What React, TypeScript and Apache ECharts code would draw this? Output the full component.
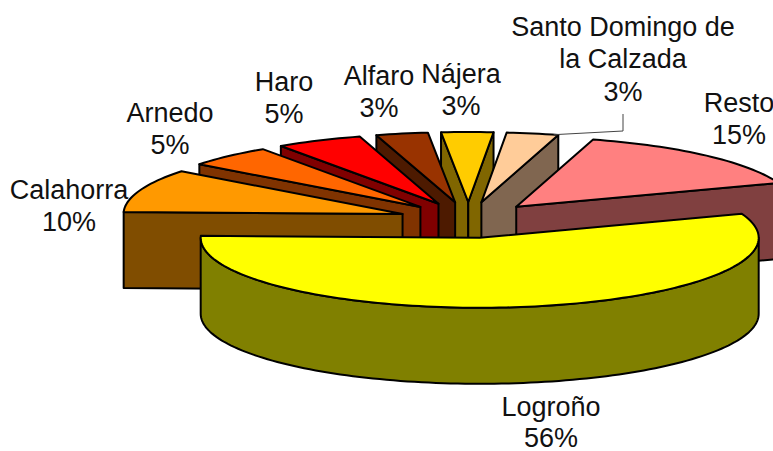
import React, { useEffect, useRef } from "react";
import * as echarts from "echarts";

const categories = ["Logroño", "Calahorra", "Arnedo", "Haro", "Alfaro", "Nájera", "Santo Domingo de\nla Calzada", "Resto"];
const shares = [56, 10, 5, 5, 3, 3, 3, 15];
const topColors = ["#FFFF00", "#FF9900", "#FF6600", "#FF0000", "#993300", "#FFCC00", "#FFCC99", "#FF8080"];
const sideColors = ["#808000", "#804D00", "#803300", "#800000", "#4D1A00", "#806600", "#806650", "#804040"];
const labelAnchors = [
  [551, 423], [69, 206], [170, 129], [284, 98], [379, 92], [461, 90], [623, 59], [739, 119],
];

const START_DEG = -20;
const BASE_X = 468.5;
const BASE_Y = 220;
const RX = 279;
const RY = 70;
const DEPTH = 76;
const EXPLODE_X = 70;
const EXPLODE_Y = 18;
const LINE_STEP = 32.5;
const FONT_SIZE = 27;
const PAGE_HEIGHT = 451;

const total = shares.reduce((a, b) => a + b, 0);
const rad = (d: number) => (d * Math.PI) / 180;

function sliceGeometry(i: number) {
  const before = shares.slice(0, i).reduce((a, b) => a + b, 0);
  const a0 = START_DEG + (before / total) * 360;
  const a1 = a0 + (shares[i] / total) * 360;
  const mid = (a0 + a1) / 2;
  const cx = BASE_X + EXPLODE_X * Math.cos(rad(mid));
  const cy = BASE_Y + EXPLODE_Y * Math.sin(rad(mid));
  return { a0, a1, mid, cx, cy };
}

const rim = (g: { cx: number; cy: number }, deg: number, dy = 0) => [
  g.cx + RX * Math.cos(rad(deg)),
  g.cy + RY * Math.sin(rad(deg)) + dy,
];

function arcPoints(g: { cx: number; cy: number }, from: number, to: number, dy = 0) {
  const n = Math.max(2, Math.ceil(Math.abs(to - from) / 1.5));
  const pts: number[][] = [];
  for (let k = 0; k <= n; k++) pts.push(rim(g, from + ((to - from) * k) / n, dy));
  return pts;
}

const drawOrder = shares
  .map((_, i) => i)
  .sort((p, q) => Math.sin(rad(sliceGeometry(p).mid)) - Math.sin(rad(sliceGeometry(q).mid)));

const edgeStyle = { stroke: "#000", lineWidth: 2, lineJoin: "round" as const };

function renderSlice(_params: any, api: any) {
  const i = api.value(0);
  const g = sliceGeometry(i);
  const { a0, a1, cx, cy } = g;
  const children: any[] = [];
  const side = { ...edgeStyle, fill: sideColors[i] };
  const face = (deg: number) => {
    const p = rim(g, deg);
    children.push({
      type: "polygon",
      shape: { points: [[cx, cy], p, [p[0], p[1] + DEPTH], [cx, cy + DEPTH]] },
      style: side,
    });
  };
  if (Math.cos(rad(a0)) < 0) face(a0);
  if (Math.cos(rad(a1)) > 0) face(a1);
  const wallFrom = Math.max(a0, 0);
  const wallTo = Math.min(a1, 180);
  if (wallTo > wallFrom) {
    children.push({
      type: "polygon",
      shape: { points: [...arcPoints(g, wallFrom, wallTo), ...arcPoints(g, wallTo, wallFrom, DEPTH)] },
      style: side,
    });
  }
  children.push({
    type: "polygon",
    shape: { points: [[cx, cy], ...arcPoints(g, a0, a1)] },
    style: { ...edgeStyle, fill: topColors[i] },
  });
  return { type: "group", children };
}

function renderLabel(_params: any, api: any) {
  const i = api.value(0);
  const lines = `${categories[i]}\n${shares[i]}%`.split("\n");
  const children: any[] = lines.map((line, k) => ({
    type: "text",
    x: labelAnchors[i][0],
    y: Math.min(
      labelAnchors[i][1] + (k - (lines.length - 1) / 2) * LINE_STEP,
      PAGE_HEIGHT - FONT_SIZE / 2
    ),
    style: {
      text: line,
      fontFamily: "Liberation Sans",
      fontSize: FONT_SIZE,
      lineHeight: FONT_SIZE,
      fill: "#111",
      align: "center",
      verticalAlign: "middle",
    },
  }));
  if (categories[i].startsWith("Santo")) {
    const g = sliceGeometry(i);
    const tip = rim(g, g.a1 - 1);
    children.push({
      type: "polyline",
      shape: { points: [[623, 114], [623, 131], tip] },
      style: { stroke: "#444", lineWidth: 1, fill: "none" },
    });
  }
  return { type: "group", children };
}

export default function App() {
  const ref = useRef<HTMLDivElement>(null);
  useEffect(() => {
    document.body.style.margin = "0";
    const chart = echarts.init(ref.current!, null, { renderer: "svg" });
    chart.setOption({
      animation: false,
      backgroundColor: "#fff",
      series: [
        {
          type: "custom",
          coordinateSystem: "none",
          silent: true,
          renderItem: renderSlice,
          data: drawOrder.map((i) => [i, shares[i]]),
          z: 2,
        },
        {
          type: "custom",
          coordinateSystem: "none",
          silent: true,
          renderItem: renderLabel,
          data: shares.map((v, i) => [i, v]),
          z: 3,
        },
      ],
    });
    return () => chart.dispose();
  }, []);
  return <div ref={ref} style={{ width: 773, height: 451, overflow: "hidden" }} />;
}
